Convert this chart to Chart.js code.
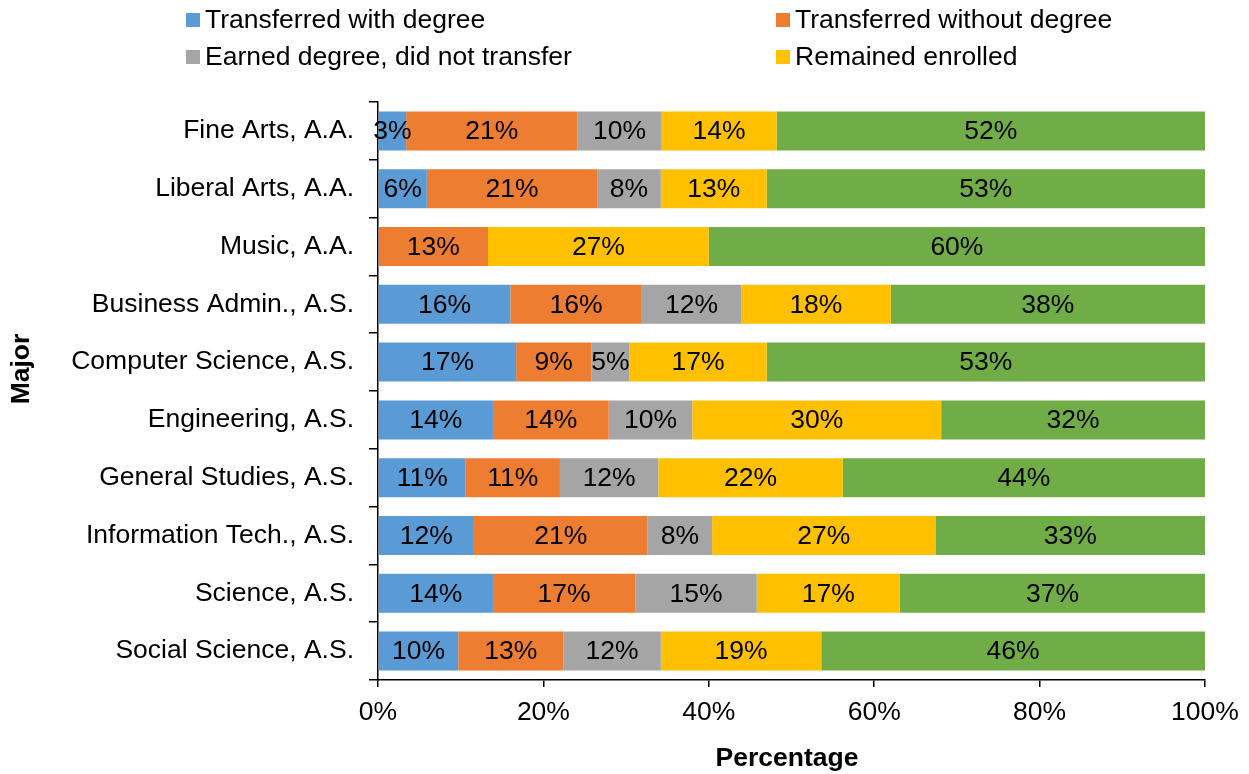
<!DOCTYPE html>
<html lang="en">
<head>
    <meta charset="UTF-8">
    <title>Outcomes by Major</title>
    <style>
        body {
            margin: 0;
            background: #FFFFFF;
            font-family: 'Liberation Sans', Arial, sans-serif;
        }
        .wrap {
            position: relative;
            width: 1249px;
            height: 774px;
        }
        .legend-item {
            position: absolute;
            font-size: 26.5px;
            line-height: 30px;
            color: #000;
            white-space: nowrap;
        }
        .legend-item span.box {
            display: inline-block;
            width: 14px;
            height: 14px;
            margin-right: 5px;
            vertical-align: 1px;
        }
    </style>
    <script src="https://cdn.jsdelivr.net/npm/chart.js@4/dist/chart.umd.min.js"></script>
</head>
<body>
    <div class="wrap">
        <canvas id="outcomeChart"></canvas>
        <div id="legend"></div>
    </div>

    <script>
        const majors = [
            "Fine Arts, A.A.", "Liberal Arts, A.A.", "Music, A.A.", "Business Admin., A.S.",
            "Computer Science, A.S.", "Engineering, A.S.", "General Studies, A.S.",
            "Information Tech., A.S.", "Science, A.S.", "Social Science, A.S."
        ];

        const seriesNames = [
            "Transferred with degree", "Transferred without degree",
            "Earned degree, did not transfer", "Remained enrolled", "Other"
        ];
        const seriesColors = ["#5B9BD5", "#ED7D31", "#A5A5A5", "#FFC000", "#70AD47"];

        const transferredWithDegree    = [3.4, 5.9, 0, 16.0, 16.7, 13.9, 10.6, 11.6, 13.9, 9.7];
        const transferredWithoutDegree = [20.7, 20.6, 13.3, 15.9, 9.1, 14.0, 11.4, 21.0, 17.2, 12.7];
        const earnedNoTransfer         = [10.2, 7.7, 0, 12.0, 4.6, 10.1, 11.9, 7.8, 14.7, 11.8];
        const remainedEnrolled         = [13.9, 12.8, 26.7, 18.1, 16.6, 30.1, 22.3, 27.0, 17.3, 19.4];
        const other                    = [51.8, 53.0, 60.0, 38.0, 53.0, 31.9, 43.8, 32.6, 36.9, 46.4];

        const xTicks = [0, 20, 40, 60, 80, 100];

        const allSeries = [transferredWithDegree, transferredWithoutDegree, earnedNoTransfer, remainedEnrolled, other];

        // legend: only the first four series, laid out in two columns
        const legendPos = [[186, 4], [776, 4], [186, 41], [776, 41]];
        const legendDiv = document.getElementById('legend');
        legendPos.forEach((p, i) => {
            const d = document.createElement('div');
            d.className = 'legend-item';
            d.style.left = p[0] + 'px';
            d.style.top = p[1] + 'px';
            d.innerHTML = `<span class="box" style="background:${seriesColors[i]}"></span>${seriesNames[i]}`;
            legendDiv.appendChild(d);
        });

        const family = "'Liberation Sans', Arial, sans-serif";
        const font = { family: family, size: 26.5 };

        // percentage labels inside segments + the two axis titles
        const barLabels = {
            id: 'barLabels',
            afterDatasetsDraw(chart) {
                const ctx = chart.ctx;
                ctx.save();
                ctx.font = `26.5px ${family}`;
                ctx.fillStyle = '#000';
                ctx.textAlign = 'center';
                ctx.textBaseline = 'middle';
                chart.data.datasets.forEach((ds, i) => {
                    const meta = chart.getDatasetMeta(i);
                    meta.data.forEach((bar, j) => {
                        const v = ds.data[j];
                        if (!v) return;
                        const c = bar.getCenterPoint();
                        ctx.fillText(Math.round(v) + '%', c.x, c.y + 1);
                    });
                });

                ctx.font = `bold 26.5px ${family}`;
                ctx.fillText('Percentage', 787, 759);
                ctx.translate(22, 369);
                ctx.rotate(-Math.PI / 2);
                ctx.fillText('Major', 0, 0);
                ctx.restore();
            }
        };

        new Chart(document.getElementById('outcomeChart'), {
            type: 'bar',
            data: {
                labels: majors,
                datasets: allSeries.map((vals, i) => ({
                    label: seriesNames[i],
                    data: vals,
                    backgroundColor: seriesColors[i],
                    borderWidth: 0,
                    barPercentage: 0.675,
                    categoryPercentage: 1.0
                }))
            },
            options: {
                indexAxis: 'y',
                responsive: true,
                maintainAspectRatio: false,
                animation: false,
                layout: { padding: { top: 102, right: 44, bottom: 0, left: 6 } },
                plugins: {
                    legend: { display: false },
                    tooltip: { enabled: false }
                },
                scales: {
                    x: {
                        stacked: true,
                        min: 0,
                        max: 100,
                        afterBuildTicks: (scale) => { scale.ticks = xTicks.map(v => ({ value: v })); },
                        afterFit: (scale) => { scale.height = 94; },
                        ticks: {
                            callback: v => v + '%',
                            color: '#000',
                            font: font,
                            padding: 10,
                            maxRotation: 0
                        },
                        grid: {
                            drawOnChartArea: false,
                            drawTicks: true,
                            tickLength: 7,
                            color: '#000',
                            lineWidth: 1.5
                        },
                        border: { display: true, color: '#000', width: 1.5 }
                    },
                    y: {
                        stacked: true,
                        afterFit: (scale) => { scale.width = 372; },
                        ticks: {
                            color: '#000',
                            font: font,
                            padding: 15
                        },
                        grid: {
                            offset: true,
                            drawOnChartArea: false,
                            drawTicks: true,
                            tickLength: 9,
                            color: '#000',
                            lineWidth: 1.5
                        },
                        border: { display: true, color: '#000', width: 1.5 }
                    }
                }
            },
            plugins: [barLabels]
        });
    </script>
</body>
</html>
